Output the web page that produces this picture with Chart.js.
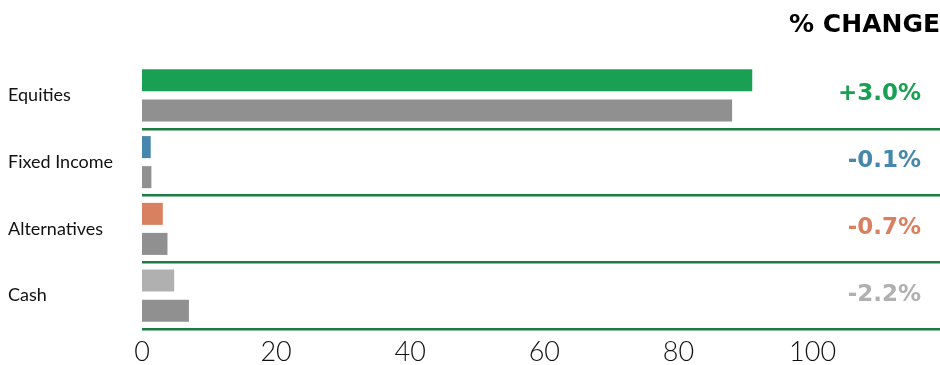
<!DOCTYPE html>
<html>
<head>
<meta charset="utf-8">
<script src="https://cdn.jsdelivr.net/npm/chart.js@4"></script>
<style>
  html, body { margin: 0; padding: 0; background: #ffffff; }
  #wrap { width: 940px; height: 365px; position: relative; }
</style>
</head>
<body>
<div id="wrap"><canvas id="allocationChart"></canvas></div>
<script>
const assetClasses = ['Equities', 'Fixed Income', 'Alternatives', 'Cash'];
const currentWeights = [91.0, 1.3, 3.1, 4.8];
const previousWeights = [88.0, 1.4, 3.8, 7.0];
const xTicks = [0, 20, 40, 60, 80, 100];

const classColors = ['#19a052', '#4587ad', '#d98060', '#b0b0b0'];
const previousColor = '#909090';
const ruleColor = '#1b7c44';

// writes the change between the two bars at the right edge of each row
const changeLabels = {
    id: 'changeLabels',
    afterDatasetsDraw(chart) {
        const { ctx, chartArea, scales } = chart;
        ctx.save();
        ctx.font = 'bold 23px "DejaVu Sans"';
        ctx.textAlign = 'right';
        ctx.textBaseline = 'middle';
        assetClasses.forEach((name, i) => {
            const diff = currentWeights[i] - previousWeights[i];
            const text = (diff > 0 ? '+' : '') + diff.toFixed(1) + '%';
            ctx.fillStyle = classColors[i];
            ctx.fillText(text, chartArea.right - 19, scales.y.getPixelForValue(i) - 1);
        });
        ctx.restore();
    }
};

const ctx = document.getElementById('allocationChart').getContext('2d');
new Chart(ctx, {
    type: 'bar',
    data: {
        labels: assetClasses,
        datasets: [
            { label: 'Current', data: currentWeights, backgroundColor: classColors, categoryPercentage: 0.9, barPercentage: 0.733 },
            { label: 'Previous', data: previousWeights, backgroundColor: previousColor, categoryPercentage: 0.9, barPercentage: 0.733 }
        ]
    },
    options: {
        indexAxis: 'y',
        responsive: true,
        maintainAspectRatio: false,
        animation: false,
        layout: { padding: { left: 8, right: 0, top: 0, bottom: 0 } },
        plugins: {
            legend: { display: false },
            tooltip: { enabled: false },
            title: {
                display: true,
                text: '% CHANGE',
                align: 'end',
                color: '#000000',
                font: { family: '"DejaVu Sans"', size: 25, weight: 'bold', lineHeight: 1.2 },
                padding: { top: 10, bottom: 22 }
            }
        },
        scales: {
            x: {
                min: 0,
                max: 119,
                afterBuildTicks: scale => { scale.ticks = xTicks.map(v => ({ value: v })); },
                afterFit: scale => { scale.height = 36; },
                grid: { display: false, drawTicks: false },
                border: { display: false },
                ticks: { color: '#111111', padding: 10, font: { family: 'Lato', size: 27, weight: 300, lineHeight: 1 } }
            },
            y: {
                afterFit: scale => { scale.width = 134; },
                grid: {
                    drawTicks: false,
                    lineWidth: 2.5,
                    color: c => (c.index === 0 ? 'rgba(0,0,0,0)' : ruleColor)
                },
                border: { display: false },
                ticks: { crossAlign: 'far', color: '#111111', font: { family: 'Lato', size: 18 } }
            }
        }
    },
    plugins: [changeLabels]
});
</script>
</body>
</html>
